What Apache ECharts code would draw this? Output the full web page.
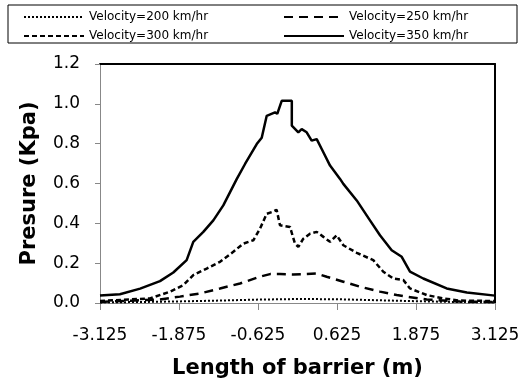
<!DOCTYPE html>
<html>
<head>
<meta charset="utf-8">
<script src="https://cdn.jsdelivr.net/npm/echarts@6/dist/echarts.min.js"></script>
<style>
  html, body { margin: 0; padding: 0; background: #fff; }
  #chart { width: 527px; height: 385px; }
</style>
</head>
<body>
<div id="chart"></div>
<script>
// tick labels on the x axis
var xTicks = [-3.125, -1.875, -0.625, 0.625, 1.875, 3.125];

// Velocity=200 km/hr (dotted)
var x200 = [-3.125, -2.5, -1.875, -1.25, -0.625, 0, 0.625, 1.25, 1.875, 2.5, 3.125];
var y200 = [0.003, 0.005, 0.008, 0.012, 0.017, 0.02, 0.019, 0.014, 0.009, 0.005, 0.003];

// Velocity=250 km/hr (long dash)
var x250 = [-3.125, -2.176, -1.86, -1.543, -1.226, -0.91, -0.594, -0.435, -0.277, -0.065, 0.092, 0.304, 0.462, 0.725, 0.989, 1.305, 1.57, 1.728, 2.045, 2.57, 3.125];
var y250 = [0.005, 0.018, 0.032, 0.048, 0.073, 0.098, 0.132, 0.145, 0.145, 0.143, 0.145, 0.148, 0.132, 0.107, 0.082, 0.057, 0.04, 0.032, 0.018, 0.007, 0.005];

// Velocity=300 km/hr (short dash)
var x300 = [-3.125, -2.334, -2.017, -1.806, -1.649, -1.437, -1.226, -1.016, -0.858, -0.699, -0.594, -0.487, -0.4, -0.33, -0.277, -0.119, -0.04, 0.013, 0.092, 0.198, 0.304, 0.41, 0.515, 0.62, 0.725, 0.937, 1.199, 1.358, 1.516, 1.675, 1.78, 2.045, 2.307, 2.57, 3.125];
var y300 = [0.01, 0.023, 0.057, 0.09, 0.14, 0.173, 0.207, 0.257, 0.298, 0.315, 0.373, 0.448, 0.457, 0.468, 0.39, 0.382, 0.298, 0.282, 0.323, 0.348, 0.357, 0.332, 0.307, 0.34, 0.29, 0.252, 0.215, 0.157, 0.123, 0.115, 0.073, 0.04, 0.023, 0.012, 0.01];

// Velocity=350 km/hr (solid)
var x350 = [-3.125, -2.81, -2.49, -2.176, -1.965, -1.754, -1.649, -1.49, -1.332, -1.174, -0.96, -0.83, -0.645, -0.566, -0.487, -0.356, -0.32, -0.25, -0.09, -0.09, 0.013, 0.066, 0.145, 0.224, 0.304, 0.383, 0.515, 0.673, 0.725, 0.937, 1.147, 1.305, 1.49, 1.649, 1.78, 1.99, 2.36, 2.68, 3.125];
var y350 = [0.038, 0.044, 0.072, 0.11, 0.153, 0.215, 0.307, 0.357, 0.415, 0.49, 0.623, 0.698, 0.798, 0.83, 0.94, 0.957, 0.95, 1.015, 1.015, 0.89, 0.857, 0.873, 0.857, 0.815, 0.823, 0.773, 0.69, 0.623, 0.598, 0.515, 0.415, 0.34, 0.265, 0.232, 0.157, 0.123, 0.073, 0.053, 0.037];

var names = ['Velocity=200 km/hr', 'Velocity=250 km/hr', 'Velocity=300 km/hr', 'Velocity=350 km/hr'];

function pairs(xs, ys) {
    var out = [];
    for (var i = 0; i < xs.length; i++) out.push([xs[i], ys[i]]);
    return out;
}

var font = 'DejaVu Sans';
var myChart = echarts.init(document.getElementById('chart'));

var legendBase = {
    orient: 'vertical',
    top: 6,
    itemWidth: 60,
    itemHeight: 12,
    itemGap: 7,
    itemStyle: { opacity: 0 },
    textStyle: { fontFamily: font, fontSize: 12, color: '#000' }
};

var option = {
    animation: false,
    backgroundColor: '#fff',
    graphic: [{
        type: 'rect',
        shape: { x: 8, y: 5, width: 509, height: 38 },
        style: { fill: 'none', stroke: '#000', lineWidth: 1 }
    }],
    legend: [
        Object.assign({ left: 18, data: [names[0], names[2]] }, legendBase),
        Object.assign({ left: 278, data: [names[1], names[3]] }, legendBase)
    ],
    grid: { left: 100, right: 32, top: 64, bottom: 82 },
    xAxis: [{
        type: 'value',
        min: -3.125,
        max: 3.125,
        name: 'Length of barrier (m)',
        nameLocation: 'middle',
        nameGap: 55,
        nameTextStyle: { fontFamily: font, fontSize: 21, fontWeight: 'bold', color: '#000' },
        axisLine: { onZero: false, lineStyle: { color: '#888', width: 1 } },
        axisTick: { show: true, customValues: xTicks, length: 7, lineStyle: { color: '#888' } },
        axisLabel: {
            customValues: xTicks,
            margin: 24,
            fontFamily: font, fontSize: 17, color: '#000',
            formatter: function (v) { return v.toFixed(3); }
        },
        splitLine: { show: false }
    }, {
        type: 'value',
        position: 'top',
        min: -3.125,
        max: 3.125,
        axisLine: { show: true, onZero: false, lineStyle: { color: '#000', width: 2 } },
        axisTick: { show: false },
        axisLabel: { show: false },
        splitLine: { show: false }
    }],
    yAxis: [{
        type: 'value',
        min: 0,
        max: 1.2,
        interval: 0.2,
        name: 'Presure (Kpa)',
        nameLocation: 'middle',
        nameGap: 60,
        nameTextStyle: { fontFamily: font, fontSize: 21, fontWeight: 'bold', color: '#000' },
        axisLine: { show: true, onZero: false, lineStyle: { color: '#888', width: 1 } },
        axisTick: { show: true, length: 5, lineStyle: { color: '#888' } },
        axisLabel: {
            margin: 20,
            fontFamily: font, fontSize: 17, color: '#000',
            formatter: function (v) { return v.toFixed(1); }
        },
        splitLine: { show: false }
    }, {
        type: 'value',
        position: 'right',
        min: 0,
        max: 1.2,
        axisLine: { show: true, onZero: false, lineStyle: { color: '#000', width: 2 } },
        axisTick: { show: false },
        axisLabel: { show: false },
        splitLine: { show: false }
    }],
    series: [{
        name: names[0],
        type: 'line',
        symbol: 'none',
        data: pairs(x200, y200),
        lineStyle: { color: '#000', width: 2, type: [2, 2] },
        itemStyle: { color: '#000' }
    }, {
        name: names[1],
        type: 'line',
        symbol: 'none',
        data: pairs(x250, y250),
        lineStyle: { color: '#000', width: 2.5, type: [9, 6] },
        itemStyle: { color: '#000' }
    }, {
        name: names[2],
        type: 'line',
        symbol: 'none',
        data: pairs(x300, y300),
        lineStyle: { color: '#000', width: 2.5, type: [5, 3] },
        itemStyle: { color: '#000' }
    }, {
        name: names[3],
        type: 'line',
        symbol: 'none',
        data: pairs(x350, y350),
        lineStyle: { color: '#000', width: 2.5 },
        itemStyle: { color: '#000' }
    }]
};

option && myChart.setOption(option);
</script>
</body>
</html>
